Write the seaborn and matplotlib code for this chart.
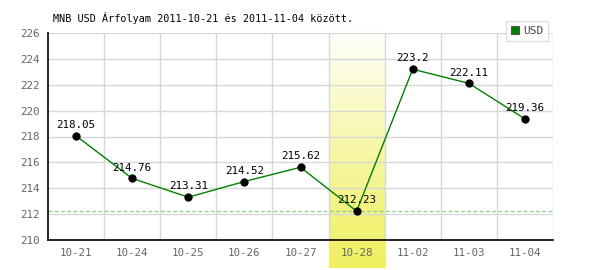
import numpy as np
import pandas as pd
import matplotlib
matplotlib.use("Agg")
import matplotlib.pyplot as plt
import matplotlib.transforms as mtransforms
from matplotlib.lines import Line2D
from matplotlib.colors import LinearSegmentedColormap
import seaborn as sns

dates = ["10-21", "10-24", "10-25", "10-26", "10-27", "10-28", "11-02", "11-03", "11-04"]
usd = [218.05, 214.76, 213.31, 214.52, 215.62, 212.23, 223.2, 222.11, 219.36]
value_labels = ["218.05", "214.76", "213.31", "214.52", "215.62", "212.23", "223.2", "222.11", "219.36"]
highlight = "10-28"
title = "MNB USD Árfolyam 2011-10-21 és 2011-11-04 között."

sns.set_theme(style="white")
plt.rcParams['font.family'] = ['DejaVu Sans Mono', 'DejaVu Sans']

df = pd.DataFrame({"pos": np.arange(len(dates)), "usd": usd})

fig = plt.figure(figsize=(6, 2.7), dpi=100)
ax = fig.add_axes([48/600, 1 - 240/270, (553-48)/600, (240-33)/270])

ax.set_xlim(-0.5, len(dates) - 0.5)
ax.set_ylim(210, 226)

# highlight band with gradient
hi = dates.index(highlight)
trans = mtransforms.blended_transform_factory(ax.transData, ax.transAxes)
grad = np.linspace(0, 1, 256).reshape(-1, 1)
cmap = LinearSegmentedColormap.from_list("yl", ["#ffffff", "#f7f7a8", "#efef5f"])
ax.imshow(grad, extent=(hi - 0.5, hi + 0.5, -0.135, 1.02), transform=trans,
          cmap=cmap, aspect='auto', origin='upper', clip_on=False, zorder=0,
          interpolation='bilinear')

# grid
for y in range(210, 227, 2):
    ax.axhline(y, color="#d8d8d8", lw=1, zorder=1)
for x in np.arange(0.5, len(dates), 1.0):
    ax.axvline(x, color="#d8d8d8", lw=1, zorder=1)

# min dashed line
ax.axhline(min(usd), color="#88d088", lw=0.9, ls=(0, (3, 2)), zorder=2)

sns.lineplot(data=df, x="pos", y="usd", ax=ax, color="#008000", lw=1, zorder=3,
             marker="o", markersize=5.2, markerfacecolor="black", markeredgecolor="black",
             legend=False)

for x, y, t in zip(df["pos"], df["usd"], value_labels):
    ax.text(x, y + 0.45, t, ha="center", va="bottom", fontsize=7.8, color="black", zorder=5)

ax.set_xticks(np.arange(len(dates)))
ax.set_xticklabels(dates)
ax.set_yticks(range(210, 227, 2))
ax.tick_params(axis="both", length=0, labelsize=7.8, labelcolor="#666666", pad=6)
ax.set_xlabel("")
ax.set_ylabel("")

for s in ["top", "right"]:
    ax.spines[s].set_visible(False)
for s in ["left", "bottom"]:
    ax.spines[s].set_color("black")
    ax.spines[s].set_linewidth(1.2)
    ax.spines[s].set_zorder(4)

fig.text(53/600, 1 - 18/270, title, fontsize=7.3, color="black", ha="left", va="center")

handle = Line2D([], [], marker="s", ls="", markersize=6, markerfacecolor="#008000",
                markeredgecolor="#555555", markeredgewidth=0.8)
leg = fig.legend([handle], ["USD"], loc="upper right",
                 bbox_to_anchor=(554/600, 1 - 15/270), frameon=True, fontsize=8,
                 handlelength=0.8, handletextpad=0.3, borderpad=0.45, fancybox=False)
leg.get_frame().set_edgecolor("#d8d8d8")
leg.get_frame().set_linewidth(1)
for t in leg.get_texts():
    t.set_color("#444444")

fig.savefig("out.png", dpi=100, facecolor="white")
